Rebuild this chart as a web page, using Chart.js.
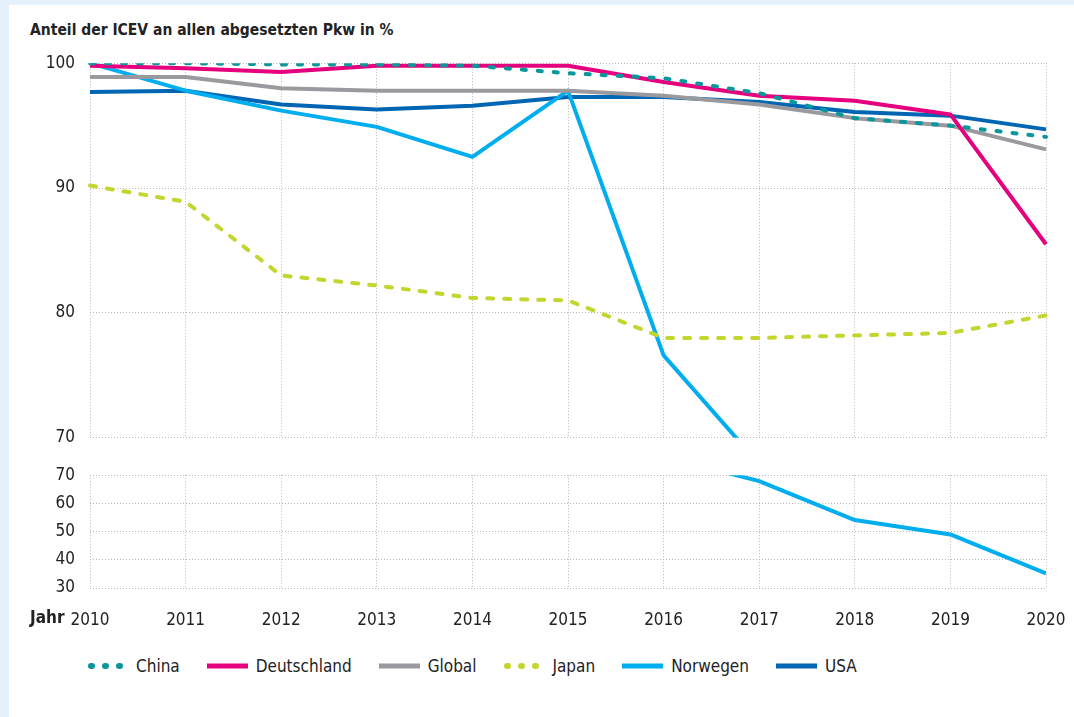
<!DOCTYPE html>
<html lang="de">
<head>
<meta charset="utf-8">
<script src="https://cdn.jsdelivr.net/npm/chart.js@4.4.1/dist/chart.umd.min.js"></script>
<style>
html, body { margin: 0; padding: 0; background: #e5f1fa; }
body { width: 1074px; height: 717px; position: relative; overflow: hidden;
       font-family: 'DejaVu Sans Condensed', 'Liberation Sans Narrow', sans-serif; color: #222; }
#card { position: absolute; left: 9px; top: 5px; right: 0; bottom: 0; background: #fff; }
#title { position: absolute; left: 30px; top: 21px; font-weight: bold; font-size: 15.5px; }
.box { position: absolute; left: 0; width: 1074px; }
#topBox { top: 38px; height: 425px; }
#botBox { top: 450px; height: 190px; }
#jahr { position: absolute; left: 30px; top: 607px; font-weight: bold; font-size: 17px; }
#legend { position: absolute; left: 87px; top: 656px; display: flex; gap: 27px; font-size: 17px; }
#legend span { display: flex; align-items: center; gap: 8px; }
</style>
</head>
<body>
<div id="card"></div>
<div id="title">Anteil der ICEV an allen abgesetzten Pkw in %</div>
<div class="box" id="topBox"><canvas id="topChart"></canvas></div>
<div class="box" id="botBox"><canvas id="botChart"></canvas></div>
<div id="jahr">Jahr</div>
<div id="legend"></div>
<script>
// Jahre und Anteile (in %) je Markt
var jahre = ['2010', '2011', '2012', '2013', '2014', '2015', '2016', '2017', '2018', '2019', '2020'];
var china       = [100.0, 100.0, 99.9, 99.9, 99.8, 99.2, 98.8, 97.6, 95.6, 95.0, 94.1];
var deutschland = [99.8, 99.6, 99.3, 99.8, 99.8, 99.8, 98.5, 97.4, 97.0, 95.9, 85.5];
var global      = [98.9, 98.9, 98.0, 97.8, 97.8, 97.8, 97.4, 96.7, 95.6, 95.0, 93.1];
var japan       = [90.2, 88.9, 83.0, 82.2, 81.2, 81.0, 78.0, 78.0, 78.2, 78.4, 79.8];
var norwegen    = [100.0, 97.8, 96.2, 94.9, 92.5, 97.8, 76.6, 67.9, 54.1, 49.0, 35.2];
var usa         = [97.7, 97.8, 96.7, 96.3, 96.6, 97.3, 97.3, 96.9, 96.1, 95.8, 94.7];

// Achsenbruch: oberer Teil 70-100, unterer Teil 30-70
var obenTicks = [70, 100];
var untenTicks = [30, 70];

var serien = [
    { label: 'China',       data: china,       color: '#0a979c', dash: [4, 12] },
    { label: 'Deutschland', data: deutschland, color: '#e5007e', dash: [] },
    { label: 'Global',      data: global,      color: '#9a9a9e', dash: [] },
    { label: 'Japan',       data: japan,       color: '#c3d630', dash: [6, 11] },
    { label: 'Norwegen',    data: norwegen,    color: '#00aeef', dash: [] },
    { label: 'USA',         data: usa,         color: '#0066b3', dash: [] }
];

var fontFamily = "'DejaVu Sans Condensed', 'Liberation Sans Narrow', sans-serif";
var gridColor = '#b9b9b9';

function datasets(lista, clip) {
    return lista.map(function (s) {
        return {
            label: s.label,
            data: s.data,
            borderColor: s.color,
            backgroundColor: s.color,
            borderWidth: 4,
            borderDash: s.dash,
            borderCapStyle: s.dash.length ? 'round' : 'butt',
            borderJoinStyle: 'round',
            pointRadius: 0,
            tension: 0,
            fill: false,
            clip: clip
        };
    });
}

function opcoes(range, mostrarX, padding) {
    return {
        responsive: true,
        maintainAspectRatio: false,
        animation: false,
        layout: { padding: padding },
        plugins: { legend: { display: false }, tooltip: { enabled: false } },
        scales: {
            x: {
                type: 'category',
                grid: { color: gridColor, drawTicks: false, lineWidth: 1 },
                border: { display: false, dash: [1, 2] },
                ticks: {
                    display: mostrarX,
                    padding: 22,
                    color: '#222',
                    font: { family: fontFamily, size: 17 },
                    maxRotation: 0,
                    autoSkip: false
                },
                afterFit: function (s) {
                    if (mostrarX) s.height = 52;
                    // Beschriftung darf über den Rand ragen
                    s.paddingLeft = 0;
                    s.paddingRight = 0;
                }
            },
            y: {
                min: range[0],
                max: range[1],
                grid: { color: gridColor, drawTicks: false, lineWidth: 1 },
                border: { display: false, dash: [1, 2] },
                ticks: {
                    stepSize: 10,
                    padding: 15,
                    color: '#222',
                    font: { family: fontFamily, size: 17 }
                },
                afterFit: function (s) { s.width = 90; }
            }
        }
    };
}

new Chart(document.getElementById('topChart'), {
    type: 'line',
    data: { labels: jahre, datasets: datasets(serien, undefined) },
    options: opcoes(obenTicks, false, { top: 13, right: 28, bottom: 12, left: 0 })
});

// Unten nur die Reihen, die unter 70 % fallen
new Chart(document.getElementById('botChart'), {
    type: 'line',
    data: {
        labels: jahre,
        datasets: datasets(serien.filter(function (s) { return Math.min.apply(null, s.data) < untenTicks[1]; }), 0)
    },
    options: opcoes(untenTicks, true, { top: 13, right: 28, bottom: 0, left: 0 })
});

// Legende
var legend = document.getElementById('legend');
serien.forEach(function (s) {
    var item = document.createElement('span');
    var da = s.dash.length ? 'stroke-dasharray="1 13" stroke-linecap="round"' : '';
    var x1 = s.dash.length ? 4 : 0;
    var x2 = s.dash.length ? 37 : 41;
    item.innerHTML = '<svg width="41" height="8"><line x1="' + x1 + '" y1="4" x2="' + x2 + '" y2="4" stroke="' +
        s.color + '" stroke-width="' + (s.dash.length ? 6 : 5) + '" ' + da + '/></svg>' + s.label;
    legend.appendChild(item);
});
</script>
</body>
</html>
